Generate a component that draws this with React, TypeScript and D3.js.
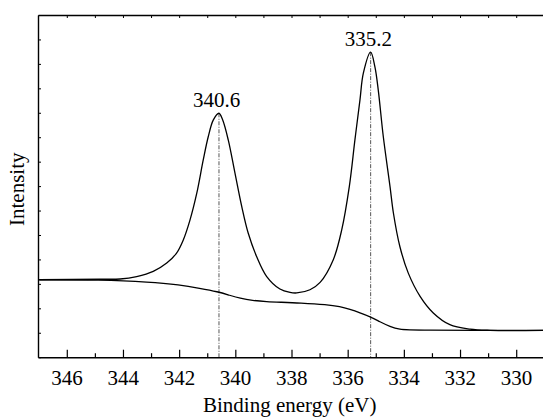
import React from "react";
import * as d3 from "d3";

// Binding energy (eV) / intensity (a.u.)
const envelopeEnergy = [347.0, 344.84, 344.12, 343.53, 342.94, 342.46, 342.11, 341.87, 341.63, 341.39, 341.16, 340.98, 340.8, 340.6, 340.47, 340.27, 340.03, 339.79, 339.56, 339.26, 338.9, 338.43, 338.07, 337.83, 337.36, 337.0, 336.53, 336.23, 335.96, 335.76, 335.58, 335.46, 335.2, 335.05, 334.93, 334.75, 334.51, 334.39, 334.16, 333.86, 333.44, 332.97, 332.38, 331.66, 330.95, 329.0];
const envelopeIntensity = [3.19, 3.21, 3.22, 3.32, 3.53, 3.87, 4.28, 4.82, 5.64, 6.73, 8.09, 9.05, 9.73, 10.0, 9.73, 8.91, 7.55, 6.19, 5.1, 4.14, 3.32, 2.81, 2.67, 2.65, 2.78, 3.08, 4.01, 5.23, 7.0, 8.91, 10.55, 11.64, 12.5, 11.91, 10.96, 9.05, 7.0, 5.92, 4.55, 3.46, 2.51, 1.83, 1.35, 1.17, 1.12, 1.12];

const backgroundEnergy = [347.0, 344.84, 343.06, 342.0, 341.28, 340.64, 340.21, 339.85, 339.42, 338.89, 338.43, 337.72, 336.75, 336.29, 335.94, 335.58, 335.22, 334.87, 334.51, 334.16, 333.8, 329.0];
const backgroundIntensity = [3.19, 3.19, 3.1, 2.98, 2.84, 2.7, 2.55, 2.43, 2.34, 2.29, 2.27, 2.24, 2.17, 2.09, 1.98, 1.84, 1.68, 1.47, 1.27, 1.15, 1.12, 1.12];

const peakEnergies = [340.6, 335.2];
const peakIntensities = [10.0, 12.5];
const peakLabels = ["340.6", "335.2"];

const xMajorTicks = [346, 344, 342, 340, 338, 336, 334, 332, 330];
const xMinorTicks = [345, 343, 341, 339, 337, 335, 333, 331, 329];
const yTicks = d3.range(0, 15);

const W = 543;
const H = 417;
const left = 38.5;
const top = 15.5;
const bottom = 357.7;
const right = 545;

const FONT = "Liberation Serif";
const FS = 21;

export default function App() {
  const x = d3.scaleLinear().domain([347, 329]).range([39.2, 544.8]);
  const y = d3.scaleLinear().domain([0, 14]).range([bottom, top]);

  const env = envelopeEnergy.map((e, i) => [e, envelopeIntensity[i]] as [number, number]);
  const bg = backgroundEnergy.map((e, i) => [e, backgroundIntensity[i]] as [number, number]);

  const envLine = d3
    .line<[number, number]>()
    .x((d) => x(d[0]))
    .y((d) => y(d[1]))
    .curve(d3.curveCatmullRom.alpha(0.5));
  const bgLine = d3
    .line<[number, number]>()
    .x((d) => x(d[0]))
    .y((d) => y(d[1]))
    .curve(d3.curveBasis);

  return (
    <svg width={W} height={H} style={{ position: "absolute", left: 0, top: 0 }}>
      {peakEnergies.map((p, i) => (
        <line
          key={"v" + i}
          x1={x(p)}
          x2={x(p)}
          y1={y(peakIntensities[i])}
          y2={bottom}
          stroke="#555"
          strokeWidth={1}
          strokeDasharray="4,1.5,1,1.5"
        />
      ))}
      <path d={bgLine(bg) || ""} fill="none" stroke="#000" strokeWidth={1.3} />
      <path d={envLine(env) || ""} fill="none" stroke="#000" strokeWidth={1.3} />

      <line x1={left} x2={right} y1={top} y2={top} stroke="#000" strokeWidth={1.4} />
      <line x1={left} x2={right} y1={bottom} y2={bottom} stroke="#000" strokeWidth={1.4} />
      <line x1={left} x2={left} y1={top} y2={bottom} stroke="#000" strokeWidth={1.4} />

      {xMajorTicks.map((t) => (
        <line key={"M" + t} x1={x(t)} x2={x(t)} y1={bottom} y2={bottom - 8} stroke="#000" strokeWidth={1.2} />
      ))}
      {xMinorTicks.map((t) => (
        <line key={"m" + t} x1={x(t)} x2={x(t)} y1={bottom} y2={bottom - 4.5} stroke="#000" strokeWidth={1.2} />
      ))}
      {[...xMajorTicks, ...xMinorTicks].map((t) => (
        <line key={"t" + t} x1={x(t)} x2={x(t)} y1={top} y2={top + 2.5} stroke="#000" strokeWidth={1} />
      ))}
      {yTicks.map((t) => (
        <line key={"y" + t} x1={left} x2={left + 2.5} y1={y(t)} y2={y(t)} stroke="#000" strokeWidth={1} />
      ))}

      <g fontFamily={FONT} fontSize={FS} fill="#000">
        {xMajorTicks.map((t) => (
          <text key={"L" + t} x={x(t) - 16} y={385} fontFamily={FONT}>
            {String(t)}
          </text>
        ))}
        {peakEnergies.map((p, i) => (
          <text key={"p" + i} x={x(p) - 26} y={y(peakIntensities[i]) - 6} fontFamily={FONT}>
            {peakLabels[i]}
          </text>
        ))}
        <text x={203} y={412} fontFamily={FONT}>
          Binding energy (eV)
        </text>
        <text transform="translate(24,226) rotate(-90)" fontFamily={FONT}>
          Intensity
        </text>
      </g>
    </svg>
  );
}
